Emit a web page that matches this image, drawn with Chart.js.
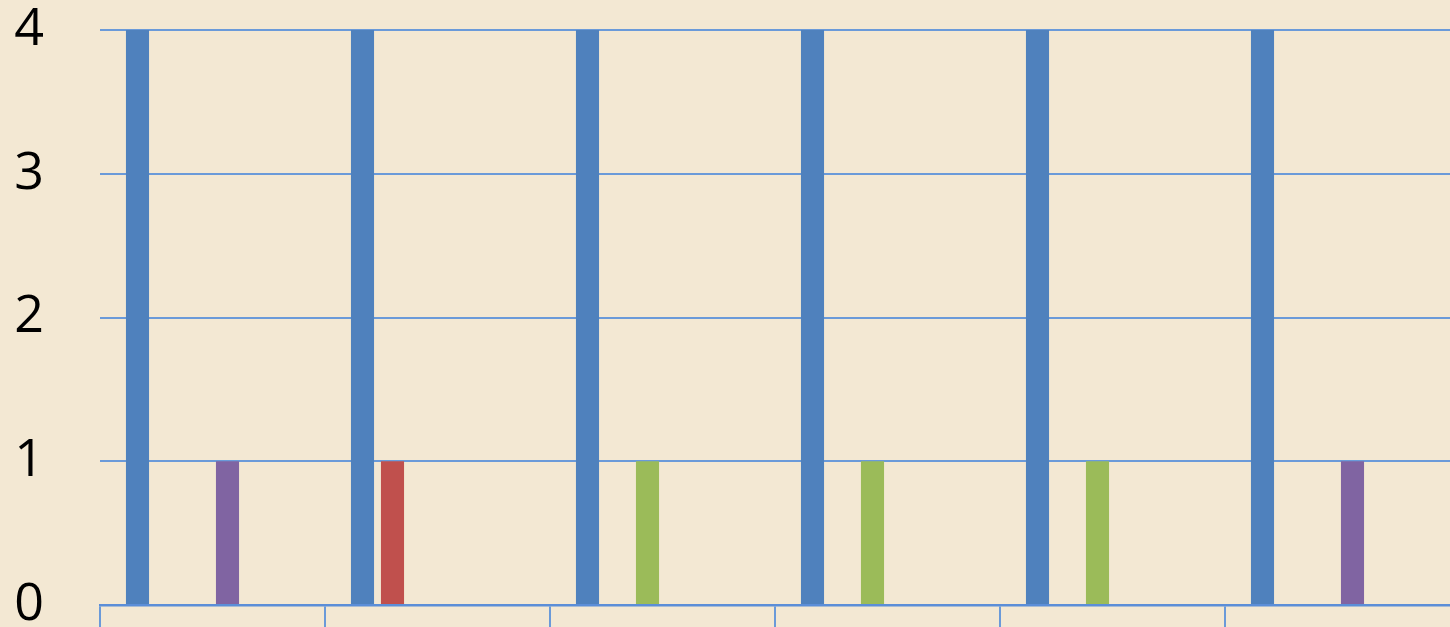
<!DOCTYPE html>
<html>
<head>
<meta charset="utf-8">
<script src="https://cdn.jsdelivr.net/npm/chart.js@4.4.1/dist/chart.umd.min.js"></script>
<style>
    html, body { margin: 0; padding: 0; background: #f3e8d3; overflow: hidden; }
    #wrap { width: 1450px; height: 627px; position: relative; }
</style>
</head>
<body>
<div id="wrap"><canvas id="chart" width="1450" height="627"></canvas></div>
<script>
// ---------------------------------------------------------
// Data
// ---------------------------------------------------------
const categories = ['1', '2', '3', '4', '5', '6'];
const seriesBlue   = [4, 4, 4, 4, 4, 4];
const seriesRed    = [0, 1, 0, 0, 0, 0];
const seriesGreen  = [0, 0, 1, 1, 1, 0];
const seriesPurple = [1, 0, 0, 0, 0, 1];
const seriesAqua   = [0, 0, 0, 0, 0, 0];
const seriesOrange = [0, 0, 0, 0, 0, 0];
const yTicks = [0, 1, 2, 3, 4];

const gridBlue = '#6a9ad9';

function makeSet(label, data, color) {
    return {
        label: label,
        data: data,
        backgroundColor: color,
        borderWidth: 0,
        categoryPercentage: 0.8,
        barPercentage: 0.77
    };
}

new Chart(document.getElementById('chart'), {
    type: 'bar',
    data: {
        labels: categories,
        datasets: [
            makeSet('Series 1', seriesBlue, '#4f81bd'),
            makeSet('Series 2', seriesRed, '#c0504d'),
            makeSet('Series 3', seriesGreen, '#9bbb59'),
            makeSet('Series 4', seriesPurple, '#8064a2'),
            makeSet('Series 5', seriesAqua, '#4bacc6'),
            makeSet('Series 6', seriesOrange, '#f79646')
        ]
    },
    options: {
        responsive: false,
        animation: false,
        layout: { padding: { top: 30, right: 0, bottom: 0, left: 0 } },
        plugins: {
            legend: { display: false },
            tooltip: { enabled: false }
        },
        scales: {
            x: {
                offset: true,
                grid: {
                    offset: true,
                    drawOnChartArea: false,
                    drawTicks: true,
                    tickLength: 22,
                    // the closing tick at the right edge has no tick context; hide it
                    color: ctx => (ctx.tick ? gridBlue : 'rgba(0,0,0,0)'),
                    lineWidth: 2
                },
                border: { display: true, color: '#5b8ed8', width: 2.5 },
                ticks: { display: false },
                afterFit: scale => { scale.height = 22; }
            },
            y: {
                min: 0,
                max: 4,
                afterBuildTicks: scale => {
                    scale.ticks = yTicks.map(v => ({ value: v }));
                },
                grid: {
                    drawTicks: false,
                    color: gridBlue,
                    lineWidth: 2
                },
                border: { display: false },
                ticks: {
                    color: '#000000',
                    padding: 56,
                    font: { family: 'Open Sans', size: 52, lineHeight: 1 }
                },
                afterFit: scale => {
                    // keep the big label gap from pushing the plot inward
                    scale.width = 100;
                    scale.paddingTop = 0;
                    scale.paddingBottom = 0;
                }
            }
        }
    }
});
</script>
</body>
</html>
